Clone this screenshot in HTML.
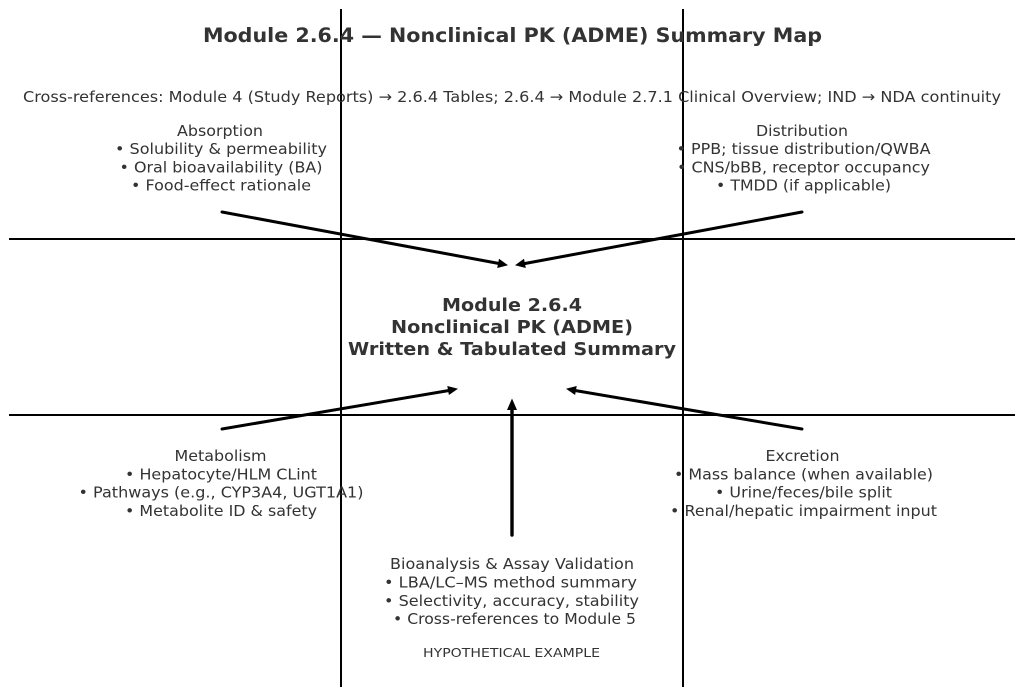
<!DOCTYPE html>
<html><head><meta charset="utf-8"><style>
html,body{margin:0;padding:0;background:#fff;}
svg{display:block;}
text{font-family:"DejaVu Sans","Liberation Sans",sans-serif;fill:#333;}
.n{font-size:15.3px;}
.b{font-weight:bold;}
</style></head><body>
<svg width="1024" height="696" viewBox="0 0 1024 696" xmlns="http://www.w3.org/2000/svg">
<rect width="1024" height="696" fill="#fff"/>
<!-- grid lines -->
<line x1="341" y1="9" x2="341" y2="687" stroke="#000" stroke-width="2"/>
<line x1="683" y1="9" x2="683" y2="687" stroke="#000" stroke-width="2"/>
<line x1="9" y1="239" x2="1015" y2="239" stroke="#000" stroke-width="2"/>
<line x1="9" y1="415" x2="1015" y2="415" stroke="#000" stroke-width="2"/>

<!-- arrows -->
<g stroke="#000" stroke-width="3" fill="none" stroke-linecap="round">
<line x1="222" y1="212" x2="499" y2="263.5"/>
<line x1="802" y1="212" x2="525" y2="263.5"/>
<line x1="222" y1="429" x2="449" y2="390.5"/>
<line x1="802" y1="429" x2="575" y2="390.5"/>
<line x1="512" y1="535" x2="512" y2="408" stroke-width="3.4"/>
</g>
<g fill="#000">
<polygon points="508,265.2 497.2,268 499,258.8"/>
<polygon points="515,265.2 524,258.8 525.8,268"/>
<polygon points="458,388.8 448.9,395 447.3,386"/>
<polygon points="566,388.8 576.7,386 575.1,395"/>
<polygon points="512,398.5 507,410 517,410"/>
</g>

<!-- title -->
<text x="512.5" y="42" text-anchor="middle" class="b" font-size="19.4" textLength="619" lengthAdjust="spacingAndGlyphs">Module 2.6.4 — Nonclinical PK (ADME) Summary Map</text>
<text x="512" y="102" text-anchor="middle" class="n" textLength="978" lengthAdjust="spacingAndGlyphs">Cross-references: Module 4 (Study Reports) → 2.6.4 Tables; 2.6.4 → Module 2.7.1 Clinical Overview; IND → NDA continuity</text>

<g class="n" text-anchor="middle">
<text x="220" y="136" textLength="86" lengthAdjust="spacingAndGlyphs">Absorption</text>
<text x="221" y="154" textLength="212" lengthAdjust="spacingAndGlyphs">• Solubility &amp; permeability</text>
<text x="221" y="172.5" textLength="203" lengthAdjust="spacingAndGlyphs">• Oral bioavailability (BA)</text>
<text x="221" y="190.5" textLength="180" lengthAdjust="spacingAndGlyphs">• Food-effect rationale</text>

<text x="802" y="136" textLength="92" lengthAdjust="spacingAndGlyphs">Distribution</text>
<text x="803.5" y="154" textLength="254" lengthAdjust="spacingAndGlyphs">• PPB; tissue distribution/QWBA</text>
<text x="803.5" y="172.5" textLength="253" lengthAdjust="spacingAndGlyphs">• CNS/bBB, receptor occupancy</text>
<text x="803.5" y="190.5" textLength="175" lengthAdjust="spacingAndGlyphs">• TMDD (if applicable)</text>

<text x="220.5" y="461" textLength="92" lengthAdjust="spacingAndGlyphs">Metabolism</text>
<text x="221" y="479.5" textLength="192" lengthAdjust="spacingAndGlyphs">• Hepatocyte/HLM CLint</text>
<text x="221" y="497.5" textLength="285" lengthAdjust="spacingAndGlyphs">• Pathways (e.g., CYP3A4, UGT1A1)</text>
<text x="221" y="516" textLength="192" lengthAdjust="spacingAndGlyphs">• Metabolite ID &amp; safety</text>

<text x="802.5" y="461" textLength="74" lengthAdjust="spacingAndGlyphs">Excretion</text>
<text x="803.5" y="479.5" textLength="259" lengthAdjust="spacingAndGlyphs">• Mass balance (when available)</text>
<text x="803.5" y="497.5" textLength="177" lengthAdjust="spacingAndGlyphs">• Urine/feces/bile split</text>
<text x="803.5" y="516" textLength="267" lengthAdjust="spacingAndGlyphs">• Renal/hepatic impairment input</text>

<text x="512" y="569" textLength="244" lengthAdjust="spacingAndGlyphs">Bioanalysis &amp; Assay Validation</text>
<text x="510.5" y="587.5" textLength="253" lengthAdjust="spacingAndGlyphs">• LBA/LC–MS method summary</text>
<text x="511.5" y="606" textLength="255" lengthAdjust="spacingAndGlyphs">• Selectivity, accuracy, stability</text>
<text x="514.5" y="624" textLength="243" lengthAdjust="spacingAndGlyphs">• Cross-references to Module 5</text>
</g>
<text x="511.5" y="657" text-anchor="middle" font-size="12.5" textLength="177" lengthAdjust="spacingAndGlyphs">HYPOTHETICAL EXAMPLE</text>

<!-- center -->
<g class="b" text-anchor="middle" font-size="18">
<text x="512" y="311" textLength="140" lengthAdjust="spacingAndGlyphs">Module 2.6.4</text>
<text x="512" y="333" textLength="242" lengthAdjust="spacingAndGlyphs">Nonclinical PK (ADME)</text>
<text x="512" y="355" textLength="328" lengthAdjust="spacingAndGlyphs">Written &amp; Tabulated Summary</text>
</g>
</svg>
</body></html>
